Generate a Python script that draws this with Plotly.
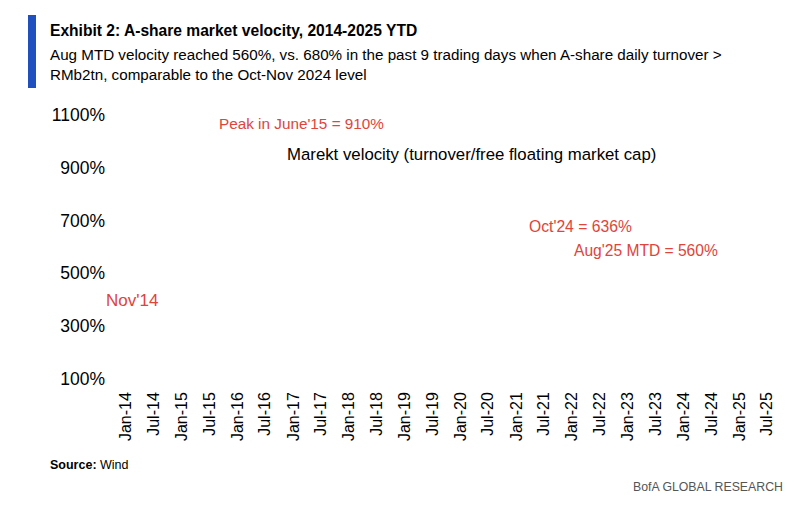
import plotly.graph_objects as go

# Tick positions / labels
tick_dates = ["2014-01-01", "2014-07-01", "2015-01-01", "2015-07-01", "2016-01-01", "2016-07-01",
              "2017-01-01", "2017-07-01", "2018-01-01", "2018-07-01", "2019-01-01", "2019-07-01",
              "2020-01-01", "2020-07-01", "2021-01-01", "2021-07-01", "2022-01-01", "2022-07-01",
              "2023-01-01", "2023-07-01", "2024-01-01", "2024-07-01", "2025-01-01", "2025-07-01"]
tick_labels = ["Jan-14", "Jul-14", "Jan-15", "Jul-15", "Jan-16", "Jul-16", "Jan-17", "Jul-17",
               "Jan-18", "Jul-18", "Jan-19", "Jul-19", "Jan-20", "Jul-20", "Jan-21", "Jul-21",
               "Jan-22", "Jul-22", "Jan-23", "Jul-23", "Jan-24", "Jul-24", "Jan-25", "Jul-25"]
y_ticks = [100, 300, 500, 700, 900, 1100]
y_tick_labels = ["100%", "300%", "500%", "700%", "900%", "1100%"]

# Annotation texts
ann_texts = ["Peak in June'15 = 910%", "Nov'14", "Oct'24 = 636%", "Aug'25 MTD = 560%",
             "Marekt velocity (turnover/free floating market cap)"]
ann_left_px = [217, 104, 527, 572, 285]
ann_mid_px = [123, 300, 226, 250, 154]
ann_sizes = [15.3, 17, 15.7, 15.6, 16.8]
ann_colors = ["#E0443A", "#E0443A", "#E0443A", "#E0443A", "#000000"]

FONT = "Liberation Sans, Arial, sans-serif"
L, R, T, B, W, H = 110, 25, 107, 122, 802, 506
PW, PH = W - L - R, H - T - B


def px(x):
    return (x - L) / PW


def py(y):
    return 1 - (y - T) / PH


fig = go.Figure()
fig.add_trace(go.Scatter(x=[], y=[], mode="lines", line=dict(color="#E0443A"), showlegend=False))

for t, x, y, s, c in zip(ann_texts, ann_left_px, ann_mid_px, ann_sizes, ann_colors):
    fig.add_annotation(xref="paper", yref="paper", x=px(x), y=py(y), text=t, showarrow=False,
                       xanchor="left", yanchor="middle",
                       font=dict(family=FONT, size=s, color=c))

fig.update_layout(
    width=W, height=H,
    margin=dict(l=L, r=R, t=T, b=B),
    paper_bgcolor="white", plot_bgcolor="white",
    font=dict(family=FONT, color="#000000"),
    showlegend=False,
    xaxis=dict(type="date", range=["2013-09-18", "2025-09-04"], tickvals=tick_dates,
               ticktext=tick_labels, tickangle=-90, showgrid=False, zeroline=False,
               showline=False, ticks="", ticklabelstandoff=4,
               tickfont=dict(family=FONT, size=16, color="#000")),
    yaxis=dict(type="linear", range=[80, 1130], tickvals=y_ticks, ticktext=y_tick_labels,
               showgrid=False, zeroline=False, showline=False, ticks="", ticklabelstandoff=4,
               tickfont=dict(family=FONT, size=17.5, color="#000")),
)

# Header
fig.add_shape(type="rect", xref="paper", yref="paper", x0=px(28), x1=px(36),
              y0=py(88), y1=py(15), fillcolor="#2050C0", line=dict(width=0))
fig.add_annotation(xref="paper", yref="paper", x=px(48), y=py(30),
                   text="<b>Exhibit 2: A-share market velocity, 2014-2025 YTD</b>",
                   showarrow=False, xanchor="left", yanchor="middle",
                   font=dict(family=FONT, size=15.6, color="#000"))
fig.add_annotation(xref="paper", yref="paper", x=px(48), y=py(64),
                   text="Aug MTD velocity reached 560%, vs. 680% in the past 9 trading days when A-share daily turnover ><br>RMb2tn, comparable to the Oct-Nov 2024 level",
                   showarrow=False, xanchor="left", yanchor="middle", align="left",
                   font=dict(family=FONT, size=15.2, color="#000"))
fig.add_annotation(xref="paper", yref="paper", x=px(48), y=py(465),
                   text="<b>Source:</b> Wind", showarrow=False, xanchor="left", yanchor="middle",
                   font=dict(family=FONT, size=12.5, color="#000"))
fig.add_annotation(xref="paper", yref="paper", x=px(785), y=py(487),
                   text="BofA GLOBAL RESEARCH", showarrow=False, xanchor="right", yanchor="middle",
                   font=dict(family=FONT, size=12.3, color="#555"))

fig.write_html("out.html", config={"displayModeBar": False},
               post_script="document.body.style.margin='0';")
